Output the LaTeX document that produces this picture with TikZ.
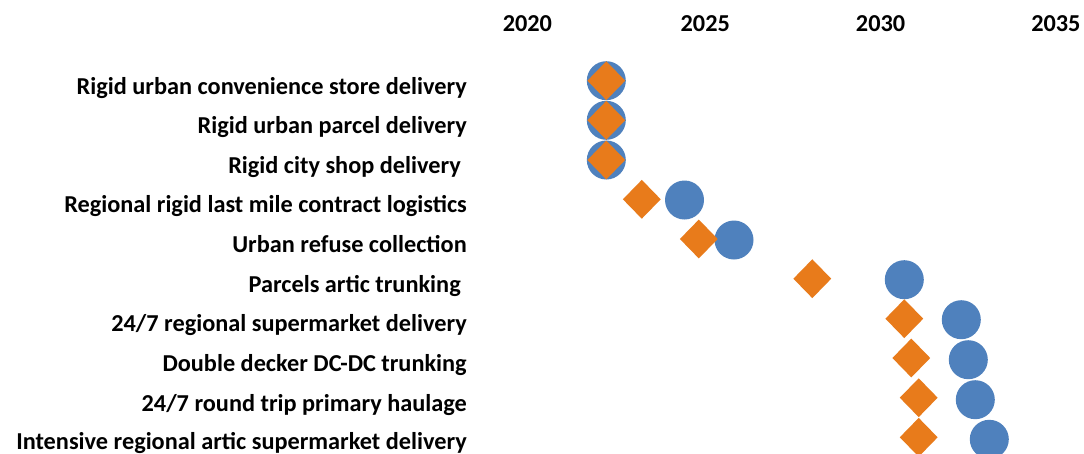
\documentclass[tikz,border=0pt]{standalone}
\usepackage{fontspec}
\setmainfont{Carlito}
\usetikzlibrary{shapes.geometric}
\definecolor{mblue}{RGB}{79,129,189}
\definecolor{morange}{RGB}{232,123,27}
\begin{document}
\begin{tikzpicture}[x=1pt,y=-1pt,
  lbl/.style={anchor=base east,inner sep=0pt,font=\fontsize{24.3}{28}\selectfont\bfseries},
  yr/.style={anchor=base,inner sep=0pt,font=\fontsize{24.3}{28}\selectfont\bfseries},
  dot/.style={circle,fill=mblue,minimum size=39pt,inner sep=0pt},
  dia/.style={diamond,fill=morange,minimum width=38pt,minimum height=39pt,inner sep=0pt}]
\useasboundingbox (0,0) rectangle (1084,453);
\fill[white] (0,0) rectangle (1084,453);
% year labels
\node[yr] (y2020) at (527.4,31.7) {2020};
\node[yr] (y2025) at (705.3,31.7) {2025};
\node[yr] (y2030) at (880.6,31.7) {2030};
\node[yr] (y2035) at (1055.9,31.7) {2035};
% row labels
\node[lbl] (l1) at (467,94) {Rigid urban convenience store delivery};
\node[lbl] (l2) at (467,133.6) {Rigid urban parcel delivery};
\node[lbl] (l3) at (467,173.3) {Rigid city shop delivery\kern6pt};
\node[lbl] (l4) at (467,212.9) {Regional rigid last mile contract logistics};
\node[lbl] (l5) at (467,252.5) {Urban refuse collection};
\node[lbl] (l6) at (467,292.2) {Parcels artic trunking\kern6pt};
\node[lbl] (l7) at (467,331.8) {24/7 regional supermarket delivery};
\node[lbl] (l8) at (467,371.4) {Double decker DC-DC trunking};
\node[lbl] (l9) at (467,411.0) {24/7 round trip primary haulage};
\node[lbl] (l10) at (467,449.6) {Intensive regional artic supermarket delivery};
% circles
\node[dot] (c1) at (606.3,80.7) {};
\node[dot] (c2) at (606.3,120.3) {};
\node[dot] (c3) at (606.3,160.0) {};
\node[dot] (c4) at (684.5,200.0) {};
\node[dot] (c5) at (734.0,240.0) {};
\node[dot] (c6) at (904.3,279.7) {};
\node[dot] (c7) at (961.3,319.7) {};
\node[dot] (c8) at (968.3,359.7) {};
\node[dot] (c9) at (975.3,399.7) {};
\node[dot] (c10) at (989.3,439.3) {};
% diamonds
\node[dia] (d1) at (606.3,80.7) {};
\node[dia] (d2) at (606.3,120.3) {};
\node[dia] (d3) at (606.3,160.0) {};
\node[dia] (d4) at (641.8,199.3) {};
\node[dia] (d5) at (698.8,239.0) {};
\node[dia] (d6) at (812.3,278.7) {};
\node[dia] (d7) at (904.3,318.7) {};
\node[dia] (d8) at (911.3,358.0) {};
\node[dia] (d9) at (918.7,397.7) {};
\node[dia] (d10) at (918.7,437.3) {};
\end{tikzpicture}
\end{document}
